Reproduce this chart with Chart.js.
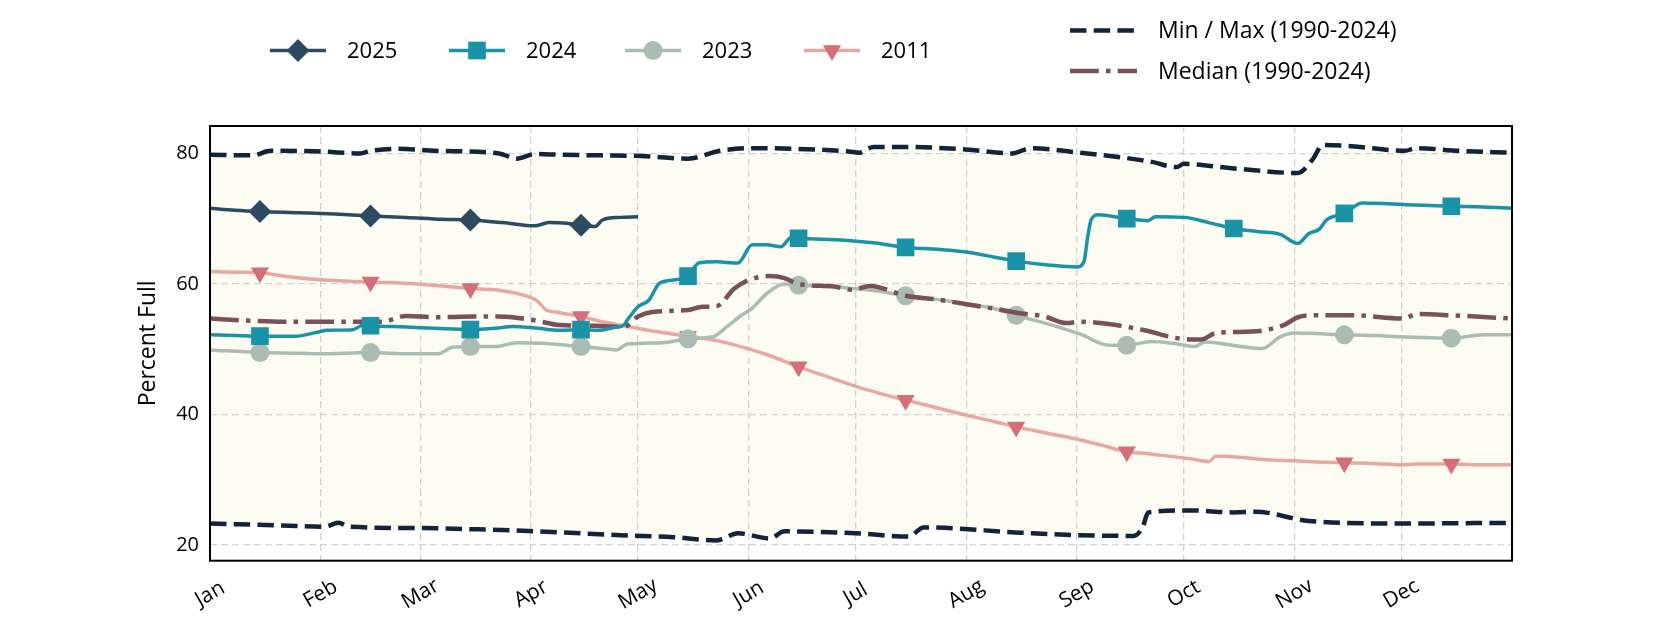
<!DOCTYPE html>
<html>
<head>
<meta charset="utf-8">
<script src="https://cdn.jsdelivr.net/npm/chart.js@4/dist/chart.umd.min.js"></script>
<style>
  html, body { margin: 0; padding: 0; background: #ffffff; }
  #wrap { width: 1680px; height: 630px; }
</style>
</head>
<body>
<div id="wrap"><canvas id="c" width="1680" height="630"></canvas></div>
<script>
// ---- Data (day of year 0..365, percent full) ----
const monthLabels = ['Jan','Feb','Mar','Apr','May','Jun','Jul','Aug','Sep','Oct','Nov','Dec'];
const monthStartDays = [0,31,59,90,120,151,181,212,243,273,304,334];
const markerDays = [14,45,73,104,134,165,195,226,257,287,318,348];
const yTickValues = [20,40,60,80];

const days2025 = [0,7,14,25,35,45,55,65,73,82,91,95,100,104,108,110,115,120];
const pct2025  = [71.6,71.3,71.1,70.9,70.7,70.4,70.2,69.9,69.8,69.4,68.9,69.4,69.3,69.0,68.8,69.8,70.2,70.3];

const days2024 = [0,7,14,24,30,33,40,43,45,55,63,73,80,85,92,98,104,109,113,116,117,120,123,126,130,134,137,142,148,152,156,160,163,165,178,186,195,204,212,220,226,235,243,245,246,247,249,257,263,265,273,280,287,294,300,305,308,311,313,318,323,330,338,348,357,365];
const pct2024  = [52.2,52.1,52.0,52.0,52.6,52.9,53.0,53.7,53.6,53.4,53.2,53.0,53.2,53.5,53.2,52.9,53.0,52.9,53.3,53.7,54.5,56.5,57.5,60.1,60.6,61.2,63.2,63.4,63.2,66.0,66.0,65.7,67.1,67.0,66.7,66.3,65.6,65.3,64.9,64.1,63.5,62.9,62.6,63.4,67.0,69.8,70.6,70.0,69.7,70.3,70.2,69.4,68.5,68.0,67.6,66.2,67.7,68.4,69.8,70.8,72.4,72.3,72.1,71.9,71.8,71.6];

const days2023 = [0,14,25,31,45,56,64,68,73,80,86,93,100,104,112,114,117,127,134,141,145,149,152,156,161,165,175,180,186,195,204,212,220,226,236,244,252,257,264,270,276,279,288,295,300,304,310,318,327,334,340,348,357,365];
const pct2023  = [49.9,49.5,49.4,49.3,49.5,49.3,49.3,50.3,50.4,50.4,51.0,50.9,50.6,50.4,50.0,49.9,50.8,51.0,51.6,51.9,53.5,55.2,56.3,58.5,60.0,59.8,59.6,59.3,59.0,58.2,57.6,57.0,56.2,55.2,53.7,52.3,50.6,50.6,51.2,50.9,50.4,51.1,50.5,50.1,51.9,52.5,52.4,52.2,52.1,51.9,51.8,51.7,52.2,52.2];

const days2011 = [0,7,14,22,32,45,58,73,80,90,92,94,98,104,110,117,125,134,143,150,157,165,173,181,188,195,204,212,220,226,235,244,250,257,263,269,275,280,282,288,295,304,312,318,326,334,338,348,357,365];
const pct2011  = [61.9,61.8,61.7,61.1,60.6,60.3,60.0,59.3,59.1,57.9,57.3,56.1,55.6,55.0,54.2,53.5,52.7,52.0,51.2,50.2,49.0,47.3,45.8,44.3,43.2,42.2,41.0,39.9,38.9,38.1,37.1,36.1,35.3,34.3,34.0,33.6,33.2,32.8,33.6,33.5,33.1,32.9,32.7,32.6,32.5,32.3,32.4,32.4,32.3,32.3];

const daysMedian = [0,10,21,39,48,55,63,74,81,89,94,98,108,116,120,124,134,138,142,147,151,157,161,165,175,180,185,195,204,212,220,227,234,240,244,254,262,271,278,282,292,301,305,310,320,335,338,348,365];
const pctMedian  = [54.7,54.4,54.2,54.2,54.2,55.1,54.9,55.0,55.0,54.6,54.1,53.7,53.6,53.4,55.0,55.7,56.0,56.5,56.6,59.3,60.6,61.2,60.9,60.0,59.6,59.1,59.7,58.2,57.6,56.9,56.2,55.5,55.0,54.0,54.2,53.7,52.9,51.7,51.5,52.5,52.7,53.7,54.9,55.2,55.2,54.7,55.4,55.2,54.7];

const daysMax = [0,12,17,31,42,45,53,63,81,86,91,98,110,121,134,143,152,164,179,182,186,194,212,225,230,244,254,264,271,273,287,305,309,312,320,335,338,350,365];
const pctMax  = [79.8,79.7,80.4,80.3,80.0,80.4,80.7,80.4,80.0,79.2,79.9,79.8,79.7,79.6,79.2,80.4,80.8,80.7,80.3,80.1,81.0,81.0,80.6,80.0,80.8,80.1,79.5,78.7,77.9,78.4,77.7,77.0,79.0,81.3,81.1,80.4,80.8,80.4,80.1];

const daysMin = [0,20,32,36,39,59,75,92,115,130,142,148,157,161,181,196,200,227,244,259,261.5,263,275,287,293,308,334,365];
const pctMin  = [23.3,23.0,22.8,23.4,22.8,22.6,22.4,22.1,21.5,21.2,20.7,21.8,21.0,22.1,21.8,21.3,22.7,21.9,21.5,21.4,22.8,25.0,25.3,25.0,25.1,23.7,23.3,23.4];

// ---- Styles ----
const FONT = "'Open Sans', 'Noto Sans', sans-serif";
const C2025 = '#2c4b61', C2024 = '#1a93a6', C2023 = '#abbdb2', C2011L = '#e6a8a1', C2011M = '#d46e77';
const CMED = '#7a5159', CMM = '#13233a', FILLC = '#fcfcf2';
const DASH_MM = [16.5, 7.2];
const DASH_MED = [28.8, 7.2, 4.5, 7.2];

function pts(d, v) { return d.map((x, i) => ({x: x, y: v[i]})); }
function markerRadius(r) {
  return ctx => (ctx.raw && markerDays.includes(ctx.raw.x)) ? r : 0;
}

const datasets = [
  { label: '2025', data: pts(days2025, pct2025), borderColor: C2025, backgroundColor: C2025,
    borderWidth: 3.5, pointStyle: 'rectRot', pointRadius: markerRadius(11.5), pointBorderWidth: 0,
    pointBackgroundColor: C2025, fill: false },
  { label: '2024', data: pts(days2024, pct2024), borderColor: C2024, backgroundColor: C2024,
    borderWidth: 3.5, pointStyle: 'rect', pointRadius: markerRadius(12.5), pointBorderWidth: 0,
    pointBackgroundColor: C2024, fill: false },
  { label: 'Median (1990-2024)', data: pts(daysMedian, pctMedian), borderColor: CMED,
    borderWidth: 4.5, borderDash: DASH_MED, pointRadius: 0, fill: false },
  { label: '2023', data: pts(days2023, pct2023), borderColor: C2023, backgroundColor: C2023,
    borderWidth: 3.5, pointStyle: 'circle', pointRadius: markerRadius(9.5), pointBorderWidth: 0,
    pointBackgroundColor: C2023, fill: false },
  { label: '2011', data: pts(days2011, pct2011), borderColor: C2011L, backgroundColor: C2011M,
    borderWidth: 3.5, pointStyle: 'triangle', pointRotation: 180, pointRadius: markerRadius(10.5),
    pointBorderWidth: 0, pointBackgroundColor: C2011M, fill: false },
  { label: 'Max', data: pts(daysMax, pctMax), borderColor: CMM, borderWidth: 4.5,
    borderDash: DASH_MM, pointRadius: 0, fill: { target: 6 }, backgroundColor: FILLC },
  { label: 'Min', data: pts(daysMin, pctMin), borderColor: CMM, borderWidth: 4.5,
    borderDash: DASH_MM, pointRadius: 0, fill: false }
];

const decorPlugin = {
  id: 'decor',
  afterDatasetsDraw(chart) {
    const ctx = chart.ctx, a = chart.chartArea;
    ctx.save();
    ctx.strokeStyle = '#000';
    ctx.lineWidth = 2;
    ctx.strokeRect(a.left, a.top, a.right - a.left, a.bottom - a.top);
    ctx.restore();
  },
  afterDraw(chart) {
    const ctx = chart.ctx;
    const xs = chart.scales.x;
    // month labels, rotated, centred on the month ticks
    ctx.save();
    ctx.fillStyle = '#000';
    ctx.font = "21px " + FONT;
    ctx.textAlign = 'center';
    ctx.textBaseline = 'middle';
    monthStartDays.forEach((d, i) => {
      const x = xs.getPixelForValue(d);
      ctx.save();
      ctx.translate(x, 594);
      ctx.rotate(-Math.PI / 6);
      ctx.fillText(monthLabels[i], 0, 0);
      ctx.restore();
    });
    ctx.restore();

    // Legend 1: yearly series
    const legend1 = [
      {ds: 0, x: 270}, {ds: 1, x: 449}, {ds: 3, x: 625}, {ds: 4, x: 804}
    ];
    const ly = 50.5;
    ctx.save();
    ctx.font = "22px " + FONT;
    ctx.textBaseline = 'middle';
    ctx.textAlign = 'left';
    legend1.forEach(it => {
      const ds = chart.data.datasets[it.ds];
      ctx.strokeStyle = ds.borderColor;
      ctx.lineWidth = ds.borderWidth;
      ctx.setLineDash([]);
      ctx.beginPath();
      ctx.moveTo(it.x, ly);
      ctx.lineTo(it.x + 56, ly);
      ctx.stroke();
      const r = ds.pointRadius({raw: {x: markerDays[0]}});
      ctx.fillStyle = ds.pointBackgroundColor;
      Chart.helpers.drawPoint(ctx, {pointStyle: ds.pointStyle, rotation: ds.pointRotation || 0,
        radius: r, borderWidth: 0}, it.x + 28, ly);
      ctx.fillStyle = '#000';
      ctx.fillText(ds.label, it.x + 77, ly + 1);
    });
    // Legend 2: reference lines
    ctx.font = "23px " + FONT;
    const legend2 = [
      {label: 'Min / Max (1990-2024)', color: CMM, dash: DASH_MM, y: 30.5},
      {label: 'Median (1990-2024)', color: CMED, dash: DASH_MED, y: 71}
    ];
    legend2.forEach(it => {
      ctx.strokeStyle = it.color;
      ctx.lineWidth = 4.5;
      ctx.setLineDash(it.dash);
      ctx.beginPath();
      ctx.moveTo(1070, it.y);
      ctx.lineTo(1137, it.y);
      ctx.stroke();
      ctx.setLineDash([]);
      ctx.fillStyle = '#000';
      ctx.fillText(it.label, 1158, it.y + 1);
    });
    ctx.restore();
  }
};

new Chart(document.getElementById('c'), {
  type: 'line',
  data: { datasets: datasets },
  plugins: [decorPlugin],
  options: {
    responsive: false,
    animation: false,
    parsing: true,
    layout: { padding: { left: 0, right: 168, top: 126, bottom: 0 } },
    elements: { line: { tension: 0, cubicInterpolationMode: 'monotone', borderCapStyle: 'butt', borderJoinStyle: 'round' } },
    plugins: {
      legend: { display: false },
      tooltip: { enabled: false },
      filler: { drawTime: 'beforeDraw' }
    },
    scales: {
      x: {
        type: 'linear', min: 0, max: 365,
        afterBuildTicks: s => { s.ticks = monthStartDays.map(v => ({value: v})); },
        afterFit: s => { s.height = 69.3; },
        ticks: { display: false },
        grid: { color: '#d2d2d2', lineWidth: 1.3, drawTicks: false },
        border: { display: false, dash: [7, 4] }
      },
      y: {
        type: 'linear', min: 17.6, max: 84.2,
        afterBuildTicks: s => { s.ticks = yTickValues.map(v => ({value: v})); },
        afterFit: s => { s.width = 210; },
        ticks: { color: '#000', padding: 11, font: { family: FONT, size: 20 }, callback: v => String(v) },
        grid: { color: '#d2d2d2', lineWidth: 1.3, drawTicks: false },
        border: { display: false, dash: [7, 4] },
        title: { display: true, text: 'Percent Full', color: '#000',
                 font: { family: FONT, size: 23 }, padding: { top: 135, bottom: 0 } }
      }
    }
  }
});
</script>
</body>
</html>
